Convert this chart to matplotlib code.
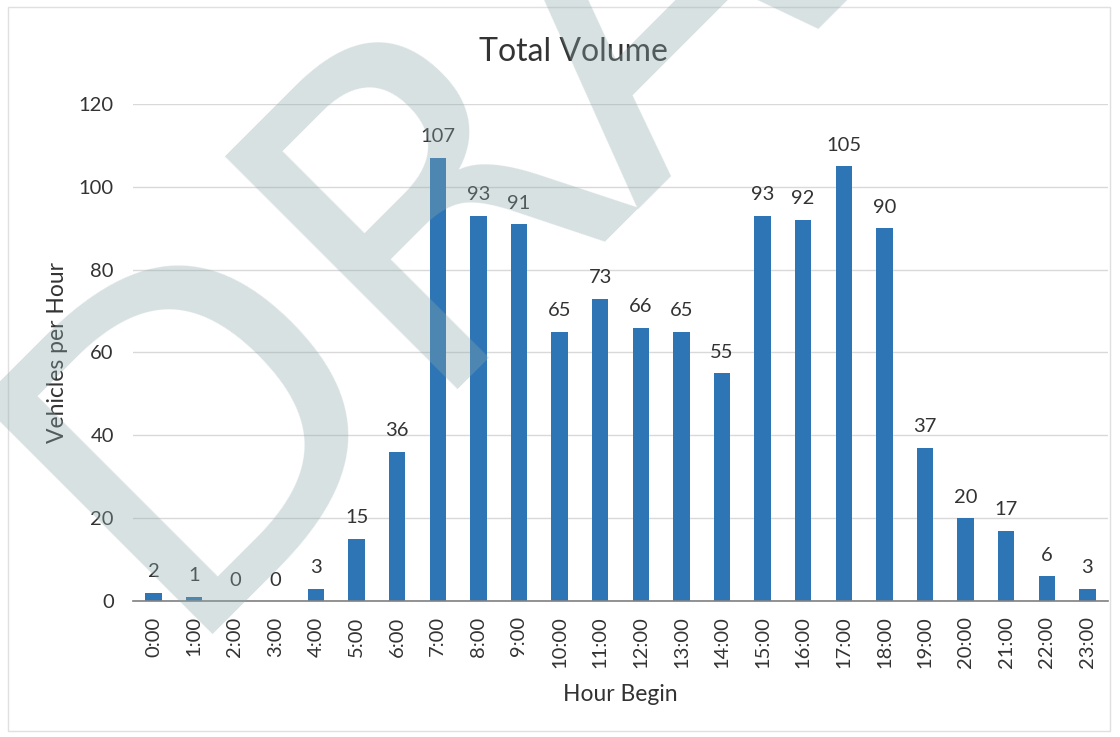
import numpy as np
import matplotlib
matplotlib.use("Agg")
from matplotlib import pyplot as plt
from matplotlib.patches import Rectangle

hours = ["%d:00" % h for h in range(24)]
volume = [2, 1, 0, 0, 3, 15, 36, 107, 93, 91, 65, 73, 66, 65, 55, 93, 92, 105, 90, 37, 20, 17, 6, 3]
yticks = [0, 20, 40, 60, 80, 100, 120]

plt.rcParams['font.family'] = ['Lato', 'DejaVu Sans']
txt = '#333333'

fig = plt.figure(figsize=(11.2, 7.37), dpi=100)
ax = fig.add_axes([0.119, 0.1845, 0.87, 0.6745])

x = np.arange(len(hours))
ax.bar(x, volume, width=0.4, color='#2E75B6', zorder=3)
for xi, v in zip(x, volume):
    ax.text(xi, v + 3, str(v), ha='center', va='bottom', fontsize=14.5, color=txt)

ax.set_xlim(-0.5, 23.5)
ax.set_ylim(0, 120)
ax.set_yticks(yticks)
ax.set_xticks(x)
ax.set_xticklabels(hours, rotation=90)
ax.tick_params(axis='both', length=0, labelsize=14.5, labelcolor=txt)
ax.tick_params(axis='y', pad=14)
ax.tick_params(axis='x', pad=11)
ax.grid(axis='y', color='#d9d9d9', lw=1, zorder=0)
for s in ['top', 'right', 'left']:
    ax.spines[s].set_visible(False)
ax.spines['bottom'].set_color('#808080')
ax.spines['bottom'].set_linewidth(1.2)
ax.spines['bottom'].set_zorder(4)

ax.set_xlabel('Hour Begin', fontsize=16.5, color=txt, labelpad=11)
ax.set_ylabel('Vehicles per Hour', fontsize=16.5, color=txt, labelpad=8)
fig.text(573 / 1120, 1 - 52 / 737, 'Total Volume', ha='center', va='center',
         fontsize=23, color=txt)

# chart border
fig.patches.append(Rectangle((8 / 1120, 6 / 737), 1102 / 1120, 724 / 737,
                             transform=fig.transFigure, fill=False,
                             edgecolor='#e0e0e0', lw=1))

# draft watermark
fig.text(168 / 1120, 1 - 634 / 737, 'DRAFT', rotation=45, rotation_mode='anchor',
         ha='left', va='baseline', fontsize=325,
         family='DejaVu Sans', color='#8da9ac', alpha=0.35, zorder=10)

fig.savefig('out.png', dpi=100)
